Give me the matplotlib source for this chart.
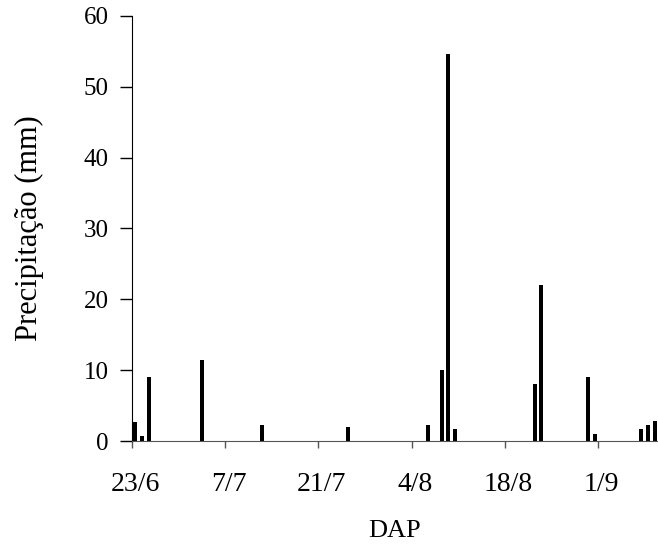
import matplotlib
matplotlib.use("Agg")
import numpy as np
from matplotlib import pyplot as plt

# dias desde 23/6 e precipitacao (mm)
dias = [0, 1, 2, 10, 19, 32, 44, 46, 47, 48, 60, 61, 68, 69, 76, 77, 78]
chuva = [2.7, 0.7, 9.1, 11.4, 2.3, 2.0, 2.3, 10.0, 54.6, 1.7,
         8.0, 22.0, 9.0, 1.0, 1.7, 2.2, 2.8]

tick_dias = [0, 14, 28, 42, 56, 70]
tick_labels = ['23/6', '7/7', '21/7', '4/8', '18/8', '1/9']

plt.rcParams['font.family'] = ['Liberation Serif', 'DejaVu Serif']

fig = plt.figure(figsize=(6.58, 5.49), dpi=100)
ax = fig.add_axes([0.2006, 0.1967, 0.7994, 0.7742])

# barras centradas no meio do dia (eixo de datas)
ax.bar(np.array(dias) + 0.5, chuva, width=0.6, color='black')

ax.set_xlim(0, 79)
ax.set_ylim(0, 60)
ax.set_yticks(range(0, 61, 10))

ax.set_xticks(tick_dias)
ax.set_xticklabels([])
ax.set_xticks(np.array(tick_dias) + 0.5, minor=True)
ax.set_xticklabels(tick_labels, minor=True)
ax.tick_params(axis='x', which='major', direction='out', length=5, width=1,
               color='#555555')
ax.tick_params(axis='x', which='minor', length=0, pad=22, labelsize=20)
ax.tick_params(axis='y', direction='out', length=9, width=1, labelsize=18, pad=8)

for s in ['top', 'right']:
    ax.spines[s].set_visible(False)
ax.spines['left'].set_color('black')
ax.spines['bottom'].set_color('#555555')

ax.set_xlabel('DAP', fontsize=19, labelpad=17)
ax.set_ylabel('Precipitação (mm)', fontsize=22, labelpad=28)

fig.savefig('out.png', dpi=100)
